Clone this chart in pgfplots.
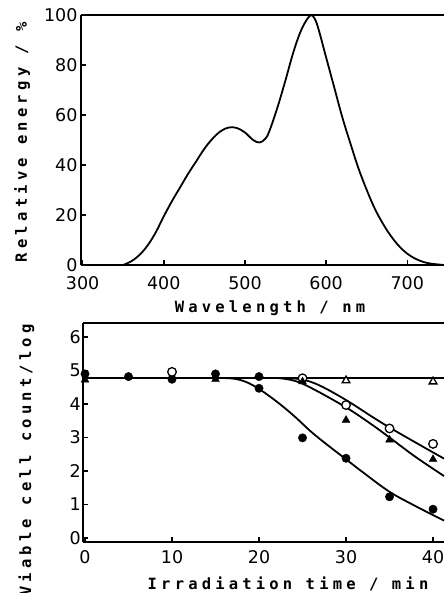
\documentclass[border=0pt]{standalone}
\usepackage{fontspec}
\setmainfont{DejaVu Sans}
\newfontfamily\lblfont{DejaVu Sans Mono}[LetterSpace=27]
\usepackage{pgfplots}
\pgfplotsset{compat=1.18}

\pgfplotsset{
  fig/.style={
    scale only axis,
    axis x line*=box, axis y line*=left,
    xtick pos=left, ytick pos=left,
    tick align=inside,
    major tick length=5pt,
    axis line style={line width=2pt},
    every major tick/.append style={black, line width=1.5pt},
    tick label style={font=\fontsize{17.5}{18}\selectfont},
    /pgf/number format/assume math mode=true,
    label style={font=\lblfont\bfseries\fontsize{15.5}{17}\selectfont},
    clip=false,
  },
  curve/.style={black, line width=1.8pt, smooth, tension=0.6},
}

\begin{document}
\begin{tikzpicture}
\useasboundingbox (0,0) rectangle (444pt,593pt);

% emission spectrum of the lamp
\begin{axis}[fig,
  at={(81pt,328pt)}, anchor=south west,
  width=363pt, height=250pt,
  xmin=298, xmax=745.2, ymin=0, ymax=100,
  xtick={300,400,...,700}, ytick={0,20,...,100},
  xticklabel style={yshift=-8pt},
  xlabel={Wavelength / nm}, ylabel={Relative energy / \%},
  xlabel style={at={(axis description cs:0.5207,-0.192)}, anchor=base},
  ylabel style={at={(axis description cs:-0.149,0.492)}, anchor=base},
]
\addplot[curve] coordinates {
  (350,0) (360,1.5) (370,4) (380,7.8) (390,13) (400,19.5) (410,25.5)
  (420,31) (430,36.5) (440,41.5) (450,46.5) (460,50.5) (470,53.5)
  (480,55) (490,54.8) (500,53) (510,50) (518,49) (525,50.5) (530,53.5)
  (540,63) (550,74) (560,85.5) (570,94.5) (580,99.7) (585,99)
  (590,95) (600,83) (610,71) (620,59) (630,48.5) (640,38.5) (650,30)
  (660,22.5) (670,16.5) (680,11.5) (690,7.5) (700,4.5) (710,2.5)
  (720,1.2) (730,0.5) (745,0)
};
\end{axis}

% survival curves
\begin{axis}[fig,
  at={(83pt,51pt)}, anchor=south west,
  width=361pt, height=219pt,
  xmin=-0.23, xmax=41.26, ymin=-0.12, ymax=6.42,
  xtick={0,10,...,40}, ytick={0,...,6},
  xticklabel style={yshift=-5pt},
  yticklabel style={inner xsep=2pt},
  xlabel={Irradiation time / min}, ylabel={Viable cell count/log},
  xlabel style={at={(axis description cs:0.568,-0.219)}, anchor=base},
  ylabel style={at={(axis description cs:-0.144,0.374)}, anchor=base},
]
\addplot[curve] coordinates {(-0.23,4.78) (41.26,4.78)};
\addplot[curve] coordinates {
  (15,4.78) (17,4.76) (18.5,4.66) (20,4.45) (22,4.08) (24,3.65) (26,3.17)
  (28,2.75) (30,2.35) (32,1.95) (35,1.38) (38,0.95) (41.26,0.52)};
\addplot[curve] coordinates {
  (23,4.78) (25,4.73) (27,4.55) (30,4.12) (33,3.62) (35,3.3) (38,2.85)
  (41.26,2.37)};
\addplot[curve] coordinates {
  (22,4.78) (24,4.7) (26,4.48) (30,3.9) (33,3.38) (35,3.0) (38,2.42)
  (41.26,1.85)};

\addplot[only marks, mark=*, mark size=4.2pt, black] coordinates {
  (0,4.9) (5,4.82) (10,4.74) (15,4.9) (20,4.82) (20,4.47)
  (25,2.99) (30,2.38) (35,1.23) (40,0.86)};
\addplot[only marks, mark=*, mark size=4.3pt, mark options={fill=white, draw=black, line width=1.3pt}] coordinates {
  (10,4.96) (25,4.77) (30,3.97) (35,3.27) (40,2.81)};
\addplot[only marks, mark=triangle*, mark size=4.5pt, black] coordinates {
  (0,4.72) (15,4.74) (25,4.67) (30,3.52) (35,2.93) (40,2.35)};
\addplot[only marks, mark=triangle*, mark size=4.5pt, mark options={fill=white, draw=black, line width=1.3pt}] coordinates {
  (30,4.7) (40,4.67)};
\end{axis}
\end{tikzpicture}
\end{document}
